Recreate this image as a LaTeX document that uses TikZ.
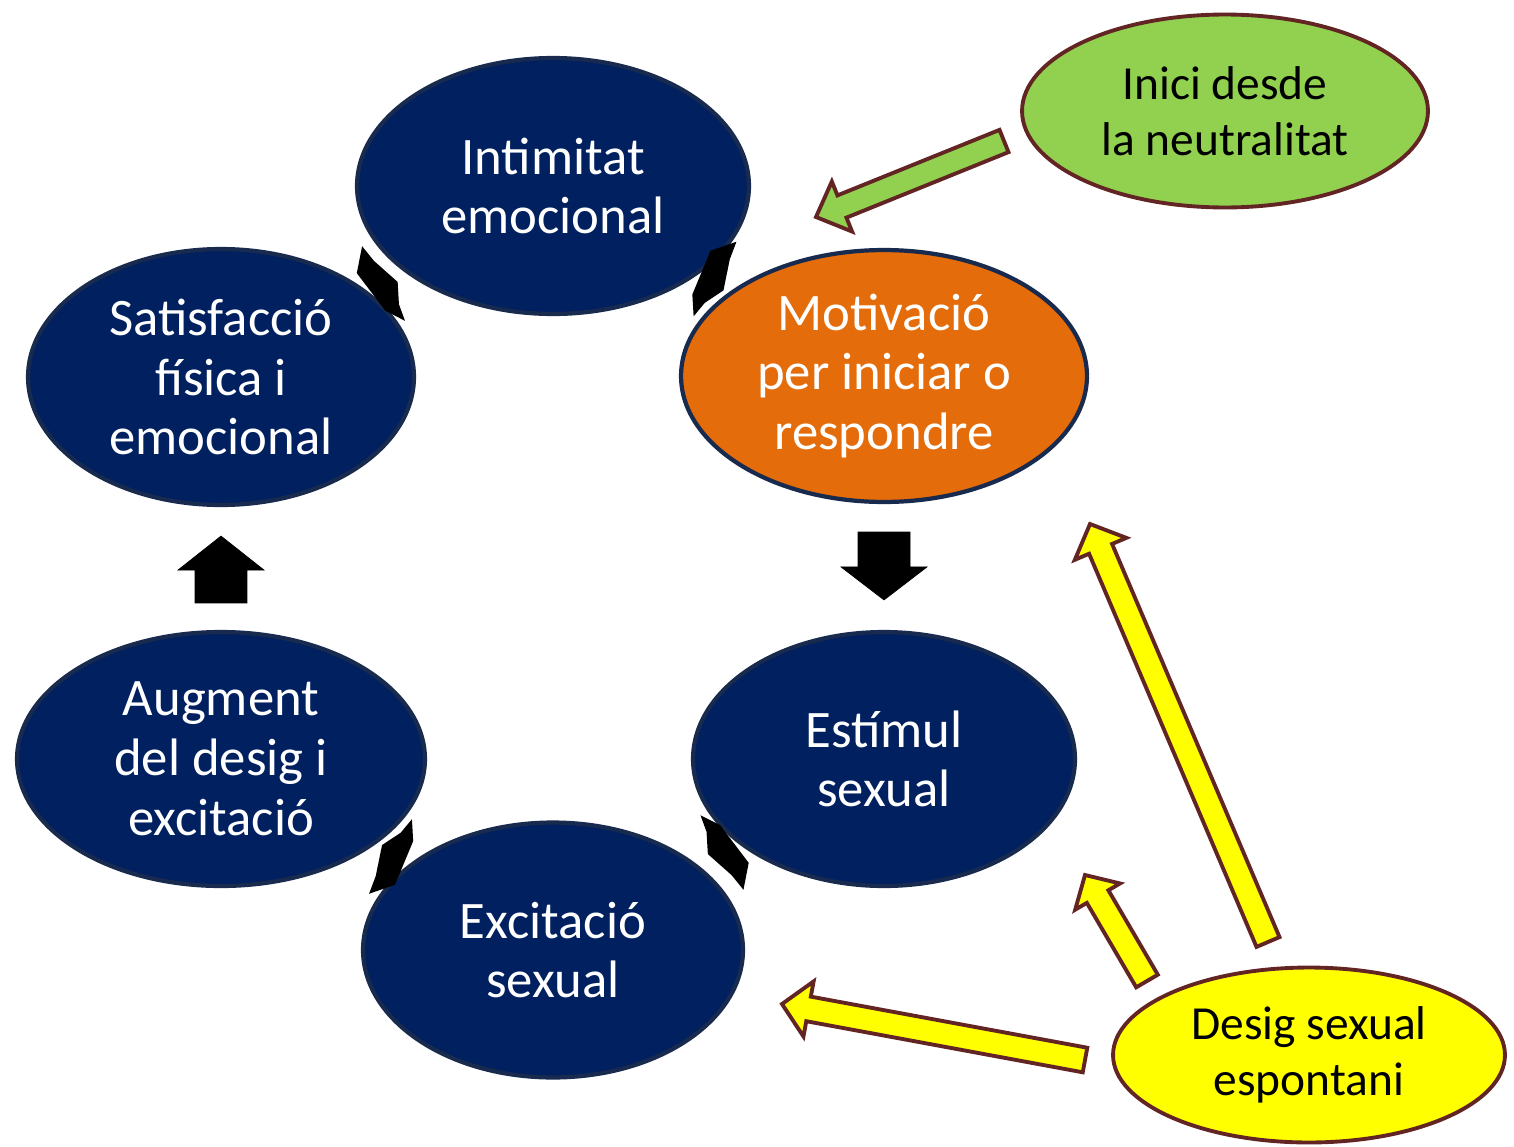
\documentclass[tikz,border=0pt]{standalone}
\usepackage{fontspec}
\setmainfont{Carlito}
\usepackage{tikz}
\definecolor{cyclenavy}{RGB}{0, 32, 96}
\definecolor{cycleedge}{RGB}{24, 42, 78}
\definecolor{motivorange}{RGB}{228, 108, 10}
\definecolor{neutralgreen}{RGB}{146, 208, 80}
\definecolor{spontyellow}{RGB}{255, 255, 0}
\definecolor{outlinebrown}{RGB}{99, 37, 35}
\usetikzlibrary{shapes.geometric, calc}

% block arrow: [style]{tail}{tip}{shaft half width}{head half width}{head length}
\newcommand{\blockarrow}[6][]{%
  \coordinate (hb) at ($(#3)!#6!(#2)$);
  \draw[#1] ($(#2)!#4!90:(#3)$) -- ($(hb)!#4!-90:(#2)$) -- ($(hb)!#5!-90:(#2)$) -- (#3)
    -- ($(hb)!#5!90:(#2)$) -- ($(hb)!#4!90:(#2)$) -- ($(#2)!#4!-90:(#3)$) -- cycle;
}

\begin{document}
\begin{tikzpicture}[
        x=0.02cm, y=-0.02cm,
        cyclenode/.style={ellipse, draw=cycleedge, line width=2.4pt, fill=cyclenavy, text=white, inner sep=0pt, align=center, font=\fontsize{30}{34}\selectfont},
        sidenode/.style={ellipse, draw=outlinebrown, line width=2.2pt, inner sep=0pt, align=center, font=\fontsize{27}{32}\selectfont},
        blockblack/.style={fill=black},
        blockside/.style={draw=outlinebrown, line width=2.2pt, line join=miter}
    ]
        \useasboundingbox (0,0) rectangle (1514,1146);

        % cycle
        \node[cyclenode, minimum width=7.84cm, minimum height=5.12cm] (intim) at (553,186) {Intimitat\\emocional};
        \node[cyclenode, fill=motivorange, minimum width=8.12cm, minimum height=5.04cm] (motiv) at (884,376) {Motivació\\per iniciar o\\respondre};
        \node[cyclenode, minimum width=7.64cm, minimum height=5.08cm] (estim) at (884,759) {Estímul\\sexual};
        \node[cyclenode, minimum width=7.6cm, minimum height=5.1cm] (excit) at (553,950) {Excitació\\sexual};
        \node[cyclenode, minimum width=8.16cm, minimum height=5.08cm] (augm) at (221,759) {Augment\\del desig i\\excitació};
        \node[cyclenode, minimum width=7.72cm, minimum height=5.12cm] (satis) at (221,377) {Satisfacció\\física i\\emocional};

        % side ellipses
        \node[sidenode, fill=neutralgreen, minimum width=8.12cm, minimum height=3.86cm] (inici) at (1225,111) {Inici desde\\la neutralitat};
        \node[sidenode, fill=spontyellow, minimum width=7.84cm, minimum height=3.5cm] (desig) at (1309,1055) {Desig sexual\\espontani};

        % small slanted marks in the gaps of the cycle
        \foreach \from/\to in {satis/intim, intim/motiv, estim/excit, excit/augm} {
            \coordinate (m) at ($(\from.center)!0.5!(\to.center)$);
            \pgfmathanglebetweenpoints{\pgfpointanchor{\from}{center}}{\pgfpointanchor{\to}{center}}
            \let\gapangle\pgfmathresult
            \begin{scope}[shift={(m)}, rotate=\gapangle, x=0.02cm, y=0.02cm]
                \fill[black] (-4,43) -- (-1,24.3) -- (9,-5.7) -- (-1,-25.7) -- (-4,-43)
                    -- (-16,-24.7) -- (-22,22.3) -- cycle;
            \end{scope}
        }

        % straight black arrows
        \coordinate (down-a) at ($(motiv.south)+(0,28)$);
        \coordinate (down-b) at ($(estim.north)+(0,-30)$);
        \blockarrow[blockblack]{down-a}{down-b}{0.52cm}{0.86cm}{0.66cm}
        \coordinate (up-a) at ($(augm.north)+(0,-27)$);
        \coordinate (up-b) at ($(satis.south)+(0,29)$);
        \blockarrow[blockblack]{up-a}{up-b}{0.52cm}{0.86cm}{0.68cm}

        % green arrow
        \coordinate (green-a) at (1004,141);
        \coordinate (green-b) at (816,217);
        \blockarrow[blockside, fill=neutralgreen]{green-a}{green-b}{0.24cm}{0.54cm}{0.56cm}

        % yellow arrows
        \coordinate (long-a) at (1268,942);
        \coordinate (long-b) at (1090,524);
        \blockarrow[blockside, fill=spontyellow]{long-a}{long-b}{0.25cm}{0.56cm}{0.54cm}
        \coordinate (short-a) at (1147,981);
        \coordinate (short-b) at (1085,875);
        \blockarrow[blockside, fill=spontyellow]{short-a}{short-b}{0.25cm}{0.52cm}{0.5cm}
        \coordinate (left-a) at (1085,1060);
        \coordinate (left-b) at (782,1004);
        \blockarrow[blockside, fill=spontyellow]{left-a}{left-b}{0.25cm}{0.56cm}{0.54cm}
    \end{tikzpicture}
\end{document}
